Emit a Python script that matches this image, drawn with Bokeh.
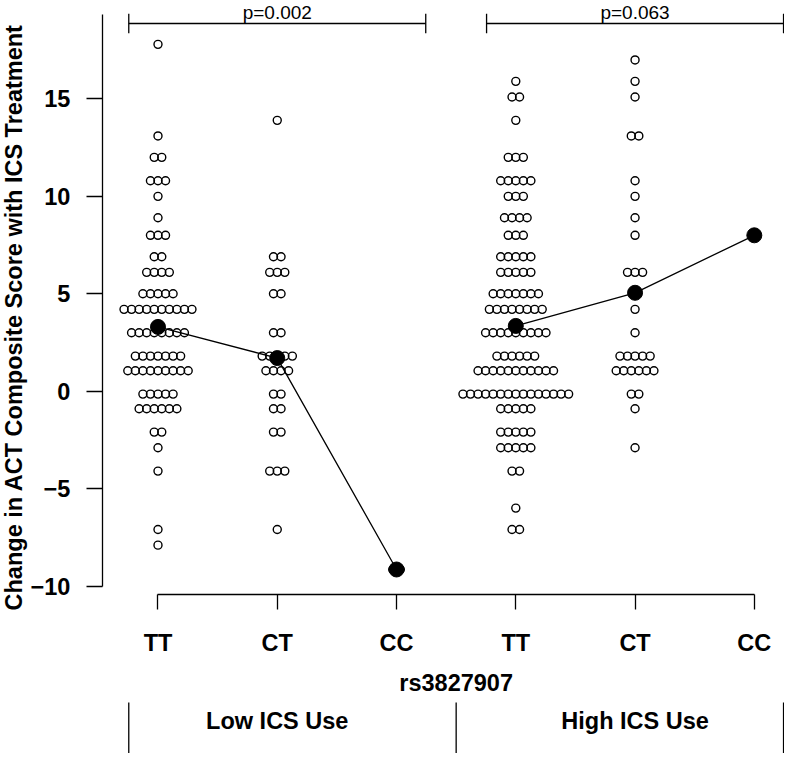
import math
from bokeh.plotting import figure
from bokeh.models import Range1d, LinearAxis, FixedTicker
from bokeh.core.properties import value
from bokeh.embed import file_html
from bokeh.resources import INLINE

# ---------------- data ----------------
genotypes = ["TT", "CT", "CC", "TT", "CT", "CC"]
ics_groups = ["Low ICS Use", "High ICS Use"]
p_values = ["p=0.002", "p=0.063"]
snp_name = "rs3827907"
y_title = "Change in ACT Composite Score with ICS Treatment"
y_ticks = [-10, -5, 0, 5, 10, 15]

# each group: score levels and number of patients at each level
low_tt_levels = [17.8, 13.1, 12.0, 10.8, 10.0, 8.9, 8.0, 6.9, 6.1, 5.0, 4.2, 3.0, 1.8, 1.05, -0.15, -0.9, -2.1, -2.9, -4.1, -7.1, -7.9]
low_tt_counts = [1, 1, 2, 3, 1, 1, 3, 2, 4, 5, 10, 8, 7, 9, 5, 6, 2, 1, 1, 1, 1]

low_ct_levels = [13.9, 6.9, 6.1, 5.0, 3.0, 1.8, 1.05, -0.15, -0.9, -2.1, -4.1, -7.1]
low_ct_counts = [1, 2, 3, 2, 2, 5, 4, 2, 2, 2, 3, 1]

low_cc_levels = [-9.15]
low_cc_counts = [2]

high_tt_levels = [15.9, 15.1, 13.9, 12.0, 10.8, 10.0, 8.9, 8.0, 6.9, 6.1, 5.0, 4.2, 3.0, 1.8, 1.05, -0.15, -0.9, -2.1, -2.9, -4.1, -6.0, -7.1]
high_tt_counts = [1, 2, 1, 3, 5, 3, 4, 3, 5, 5, 7, 8, 9, 6, 11, 15, 5, 5, 5, 2, 1, 2]

high_ct_levels = [17.0, 15.9, 15.1, 13.1, 10.8, 10.0, 8.9, 8.0, 6.1, 4.2, 3.0, 1.8, 1.05, -0.15, -0.9, -2.9]
high_ct_counts = [1, 1, 1, 2, 1, 1, 1, 1, 3, 1, 1, 5, 6, 2, 1, 1]

high_cc_levels = [8.0]
high_cc_counts = [1]

group_means = [3.3, 1.7, -9.15, 3.35, 5.05, 8.0]

# ---------------- layout ----------------
W, H = 784, 753
FONT = "Liberation Sans"
BIG = "23.5px"
SMALL = "19px"
DX = 0.0633  # horizontal swarm spacing (data units)

p = figure(width=W, height=H,
           x_range=Range1d(-0.3205, 6.253), y_range=Range1d(-18.593, 20.05),
           x_axis_type=None, y_axis_type=None,
           toolbar_location=None, output_backend="svg",
           min_border=0, outline_line_color=None, background_fill_color="white")

# y axis
yaxis = LinearAxis(fixed_location=0.534, bounds=(-10, 19.35),
                   ticker=FixedTicker(ticks=y_ticks),
                   major_label_overrides={t: str(t).replace("-", "\u2212") for t in y_ticks},
                   major_tick_out=16, major_tick_in=0, minor_tick_out=0, minor_tick_in=0,
                   major_label_standoff=16,
                   axis_line_width=1.3, major_tick_line_width=1.3,
                   axis_line_color="black", major_tick_line_color="black",
                   major_label_text_font=FONT, major_label_text_font_style="bold",
                   major_label_text_font_size=BIG, major_label_text_color="black")
p.add_layout(yaxis, "left")

# x axis
xaxis = LinearAxis(fixed_location=-10.437, bounds=(1, 6),
                   ticker=FixedTicker(ticks=[1, 2, 3, 4, 5, 6]),
                   major_label_overrides={i + 1: g for i, g in enumerate(genotypes)},
                   major_tick_out=15, major_tick_in=0, minor_tick_out=0, minor_tick_in=0,
                   major_label_standoff=20,
                   axis_line_width=1.3, major_tick_line_width=1.3,
                   axis_line_color="black", major_tick_line_color="black",
                   major_label_text_font=FONT, major_label_text_font_style="bold",
                   major_label_text_font_size=BIG, major_label_text_color="black")
p.add_layout(xaxis, "below")

# swarm points
groups = [(low_tt_levels, low_tt_counts), (low_ct_levels, low_ct_counts),
          (low_cc_levels, low_cc_counts), (high_tt_levels, high_tt_counts),
          (high_ct_levels, high_ct_counts), (high_cc_levels, high_cc_counts)]
xs, ys = [], []
for gi, (levels, counts) in enumerate(groups):
    cx = gi + 1
    for lv, n in zip(levels, counts):
        for k in range(n):
            xs.append(cx + (k - (n - 1) / 2) * DX)
            ys.append(lv)
p.scatter(xs, ys, marker="circle", size=8, fill_color=None,
          line_color="black", line_width=1.4)

# mean lines and dots
p.line([1, 2, 3], group_means[:3], line_color="black", line_width=1.3)
p.line([4, 5, 6], group_means[3:], line_color="black", line_width=1.3)
p.scatter([1, 2, 3, 4, 5, 6], group_means, marker="circle", size=15,
          fill_color="black", line_color="black")

# p-value brackets
half = 1.245
centers = [2, 5]
by, bt0, bt1 = 18.87, 18.37, 19.37
p.segment(x0=[c - half for c in centers], x1=[c + half for c in centers],
          y0=[by, by], y1=[by, by], line_color="black", line_width=1.3)
tick_x = [c + s * half for c in centers for s in (-1, 1)]
p.segment(x0=tick_x, x1=tick_x, y0=[bt0] * 4, y1=[bt1] * 4,
          line_color="black", line_width=1.3)
p.text(x=centers, y=[19.43, 19.43], text=p_values, text_align="center",
       text_baseline="middle", text_font=value(FONT), text_font_size=SMALL,
       text_color="black")

# axis titles
p.text(x=[-0.2054], y=[3.79], text=[y_title], angle=math.pi / 2,
       text_align="center", text_baseline="middle", text_font=value(FONT),
       text_font_style="bold", text_font_size=BIG, text_color="black")
p.text(x=[3.5], y=[-14.97], text=[snp_name], text_align="center",
       text_baseline="middle", text_font=value(FONT), text_font_style="bold",
       text_font_size=BIG, text_color="black")

# ICS group labels and separators
sep_x = [1 - 0.245, 3.5, 6 + 0.245]
p.segment(x0=sep_x, x1=sep_x, y0=[-15.98] * 3, y1=[-18.7] * 3,
          line_color="black", line_width=1.3)
p.text(x=centers, y=[-16.9, -16.9], text=ics_groups, text_align="center",
       text_baseline="middle", text_font=value(FONT), text_font_style="bold",
       text_font_size=BIG, text_color="black")

open("out.html", "w").write(file_html(p, INLINE))
